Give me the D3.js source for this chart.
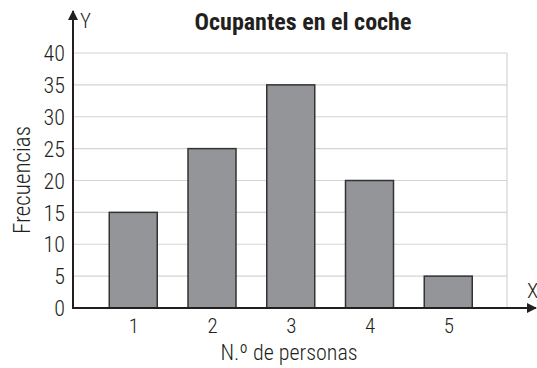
<!DOCTYPE html>
<html>
<head>
<meta charset="utf-8">
<script src="https://cdn.jsdelivr.net/npm/d3@7"></script>
<style>
  html, body { margin: 0; padding: 0; background: #fff; }
  svg { display: block; }
  text { font-family: "Roboto Condensed", "Liberation Sans Narrow", "Arial Narrow", sans-serif; fill: #231f20; font-weight: 300; }
</style>
</head>
<body>
<svg id="chart" width="537" height="368"></svg>
<script>
// Occupants per car: number of people and their frequencies
const categories = [1, 2, 3, 4, 5];
const frequencies = [15, 25, 35, 20, 5];
const yTicks = [0, 5, 10, 15, 20, 25, 30, 35, 40];

const title = "Ocupantes en el coche";
const xTitle = "N.º de personas";
const yTitle = "Frecuencias";

const svg = d3.select("#chart");
const FONT = "'Roboto Condensed', 'Liberation Sans Narrow', sans-serif";

const originX = 73, originY = 308, gridRight = 507;
const x = d3.scaleLinear().domain([0, 6]).range([54.5, 527]);
const y = d3.scaleLinear().domain([0, 40]).range([originY, 53]);
const barW = 48;

// horizontal grid
svg.append("g")
  .selectAll("line")
  .data(yTicks.filter(d => d > 0))
  .join("line")
  .attr("x1", originX).attr("x2", gridRight)
  .attr("y1", d => y(d)).attr("y2", d => y(d))
  .attr("stroke", "#d4d4d4").attr("stroke-width", 1.2);

// right grid border
svg.append("line")
  .attr("x1", gridRight).attr("x2", gridRight)
  .attr("y1", y(40)).attr("y2", originY)
  .attr("stroke", "#d4d4d4").attr("stroke-width", 1.2);

// bars
svg.append("g")
  .selectAll("rect")
  .data(categories.map((c, i) => ({ c, v: frequencies[i] })))
  .join("rect")
  .attr("x", d => x(d.c) - barW / 2)
  .attr("y", d => y(d.v))
  .attr("width", barW)
  .attr("height", d => y(0) - y(d.v))
  .attr("fill", "#939598")
  .attr("stroke", "#333")
  .attr("stroke-width", 1.5);

// y axis labels
const yAxis = d3.axisLeft(y).tickValues(yTicks).tickSize(0).tickPadding(8);
const gy = svg.append("g").attr("transform", `translate(${originX},0)`).call(yAxis);
gy.select(".domain").remove();
gy.selectAll("text").attr("font-size", 22).attr("dy", "0.35em")
  .style("font-family", FONT).style("font-weight", 300).attr("fill", "#231f20");

// x axis labels
const xAxis = d3.axisBottom(x).tickValues(categories).tickSize(0).tickPadding(10).tickFormat(d3.format("d"));
const gx = svg.append("g").attr("transform", `translate(0,${originY})`).call(xAxis);
gx.select(".domain").remove();
gx.selectAll("text").attr("font-size", 21)
  .style("font-family", FONT).style("font-weight", 300).attr("fill", "#231f20");

// axis lines with arrows
svg.append("defs").append("marker")
  .attr("id", "arrow").attr("viewBox", "0 0 10 10")
  .attr("refX", 9).attr("refY", 5)
  .attr("markerWidth", 5).attr("markerHeight", 5)
  .attr("markerUnits", "strokeWidth")
  .attr("orient", "auto")
  .append("path").attr("d", "M0,0 L10,5 L0,10 z").attr("fill", "#231f20");

svg.append("line")
  .attr("x1", originX).attr("x2", originX)
  .attr("y1", originY + 1).attr("y2", 11)
  .attr("stroke", "#231f20").attr("stroke-width", 2)
  .attr("marker-end", "url(#arrow)");
svg.append("line")
  .attr("x1", originX - 1).attr("x2", 536)
  .attr("y1", originY).attr("y2", originY)
  .attr("stroke", "#231f20").attr("stroke-width", 2)
  .attr("marker-end", "url(#arrow)");

// axis letters
svg.append("text").attr("x", 80).attr("y", 28).attr("font-size", 21).text("Y");
svg.append("text").attr("x", 527).attr("y", 298).attr("font-size", 21).text("X");

// titles
svg.append("text").attr("x", 303).attr("y", 30).attr("text-anchor", "middle")
  .attr("font-size", 24).style("font-weight", "bold").text(title);
svg.append("text").attr("x", 289).attr("y", 360).attr("text-anchor", "middle")
  .attr("font-size", 22).text(xTitle);
svg.append("text").attr("transform", "translate(30,180) rotate(-90)")
  .attr("text-anchor", "middle").attr("font-size", 23).text(yTitle);
</script>
</body>
</html>
